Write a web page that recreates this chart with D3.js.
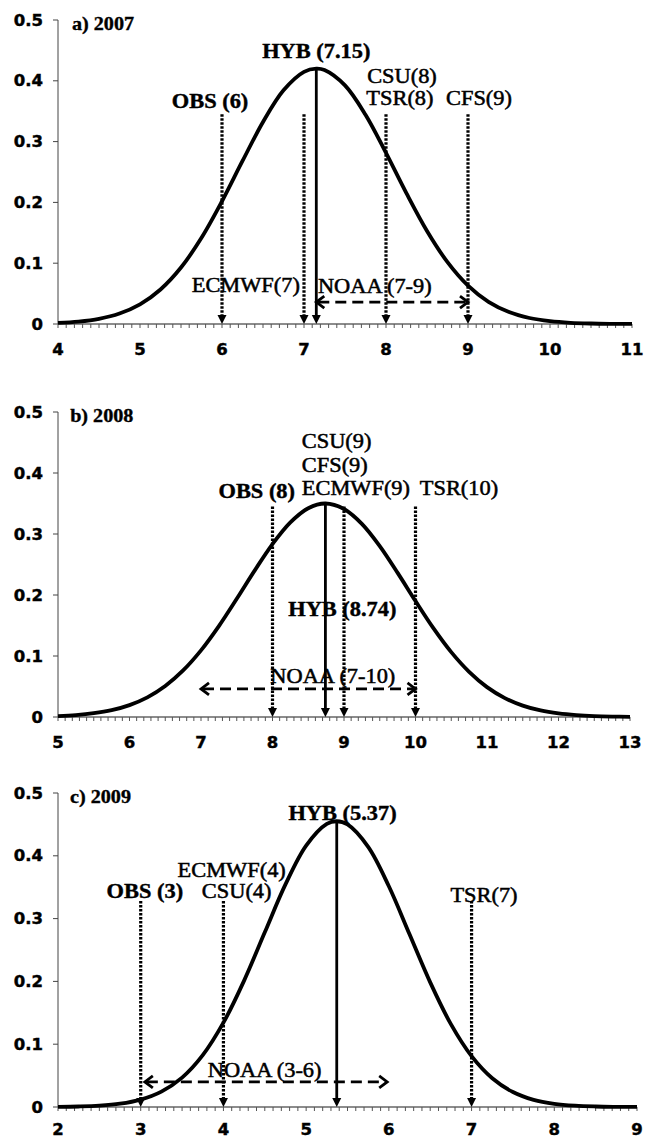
<!DOCTYPE html>
<html><head><meta charset="utf-8">
<script src="https://cdnjs.cloudflare.com/ajax/libs/d3/7.8.5/d3.min.js"></script>
<style>html,body{margin:0;padding:0;background:#fff;}svg{display:block;}</style>
</head><body>
<script>
// ---------- DATA ----------
const panelTitles = ["a) 2007", "b) 2008", "c) 2009"];
const xDomains = [[4, 11], [5, 13], [2, 9]];
const yTicks = [0, 0.1, 0.2, 0.3, 0.4, 0.5];

const curveX2007 = [4,4.25,4.5,4.75,5,5.25,5.5,5.75,6,6.25,6.5,6.75,7,7.15,7.25,7.5,7.75,8,8.25,8.5,8.75,9,9.25,9.5,9.75,10,10.25,10.5,10.75,11];
const curveY2007 = [0.0017,0.004,0.0086,0.0173,0.0324,0.0568,0.0929,0.1418,0.2019,0.2681,0.3323,0.3844,0.4148,0.42,0.4177,0.3924,0.3441,0.2814,0.2148,0.153,0.1017,0.0631,0.0365,0.0197,0.0099,0.0047,0.002,0.0008,0.0003,0.0001];

const curveX2008 = [5,5.25,5.5,5.75,6,6.25,6.5,6.75,7,7.25,7.5,7.75,8,8.25,8.5,8.74,9,9.25,9.5,9.75,10,10.25,10.5,10.75,11,11.25,11.5,11.75,12,12.25,12.5,12.75,13];
const curveY2008 = [0.0016,0.0032,0.0062,0.0112,0.0195,0.0322,0.0508,0.0763,0.1092,0.149,0.1937,0.24,0.2835,0.3191,0.3423,0.35,0.341,0.3167,0.2802,0.2363,0.1901,0.1456,0.1063,0.074,0.049,0.031,0.0187,0.0107,0.0059,0.0031,0.0015,0.0007,0.0003];

const curveX2009 = [2,2.25,2.5,2.75,3,3.25,3.5,3.75,4,4.25,4.5,4.75,5,5.25,5.37,5.5,5.75,6,6.25,6.5,6.75,7,7.25,7.5,7.75,8,8.25,8.5,8.75,9];
const curveY2009 = [0.0003,0.0008,0.0021,0.0052,0.0118,0.0245,0.0468,0.0826,0.1343,0.2013,0.2781,0.3544,0.4162,0.4508,0.455,0.45,0.4142,0.3515,0.275,0.1984,0.1319,0.0809,0.0457,0.0238,0.0114,0.0051,0.0021,0.0008,0.0003,0.0001];

const hybValues = [7.15, 8.74, 5.37];
const hybPeaks = [0.42, 0.35, 0.455];
const forecastValues2007 = [6, 7, 8, 9];
const forecastValues2008 = [8, 9, 10];
const forecastValues2009 = [3, 4, 7];
const noaaArrow2007 = [7.15, 9];
const noaaArrow2008 = [7, 10];
const noaaArrow2009 = [3.05, 5.98];

// labels: [text, bold, x (data), y (data), anchor]
const labels2007 = [
  ["HYB (7.15)", true, 7.15, 0.4375, "middle"],
  ["OBS (6)", true, 5.854, 0.355, "middle"],
  ["ECMWF(7)", false, 6.95, 0.0526, "end"],
  ["CSU(8)", false, 8.195, 0.396, "middle"],
  ["TSR(8)", false, 8.17, 0.36, "middle"],
  ["CFS(9)", false, 9.134, 0.36, "middle"],
  ["NOAA (7-9)", false, 7.17, 0.051, "start"]
];
const labels2008 = [
  ["OBS (8)", true, 7.78, 0.359, "middle"],
  ["CSU(9)", false, 8.41, 0.441, "start"],
  ["CFS(9)", false, 8.41, 0.4016, "start"],
  ["ECMWF(9)", false, 8.41, 0.364, "start"],
  ["TSR(10)", false, 10.06, 0.364, "start"],
  ["HYB (8.74)", true, 8.22, 0.1656, "start"],
  ["NOAA (7-10)", false, 7.97, 0.0557, "start"]
];
const labels2009 = [
  ["HYB (5.37)", true, 5.44, 0.457, "middle"],
  ["ECMWF(4)", false, 4.1, 0.367, "middle"],
  ["CSU(4)", false, 4.16, 0.333, "middle"],
  ["OBS (3)", true, 3.05, 0.333, "middle"],
  ["TSR(7)", false, 7.15, 0.326, "middle"],
  ["NOAA (3-6)", false, 3.81, 0.048, "start"]
];

// ---------- LAYOUT ----------
const W = 649, H = 1140;
const panels = [
  {x0: 58, x1: 632, yTop: 20, yBot: 324, cx: curveX2007, cy: curveY2007, fv: forecastValues2007, dotTop: 0.345, noaa: noaaArrow2007, noaaY: 0.036, labels: labels2007, titlePos: [4.17, 0.4836], xlab: 31},
  {x0: 58, x1: 630, yTop: 412, yBot: 717, cx: curveX2008, cy: curveY2008, fv: forecastValues2008, dotTop: 0.345, noaa: noaaArrow2008, noaaY: 0.046, labels: labels2008, titlePos: [5.17, 0.4836], xlab: 31},
  {x0: 58, x1: 637, yTop: 793, yBot: 1107, cx: curveX2009, cy: curveY2009, fv: forecastValues2009, dotTop: 0.328, noaa: noaaArrow2009, noaaY: 0.04, labels: labels2009, titlePos: [2.145, 0.484], xlab: 28}
];
const SX = 1.12;
const serif = "'Liberation Serif','Times New Roman',serif";
const sans = "'DejaVu Sans',Verdana,sans-serif";

const svg = d3.select("body").append("svg").attr("width", W).attr("height", H);
svg.append("rect").attr("width", W).attr("height", H).attr("fill", "#fff");

function txt(g, x, y, s, o) {
  g.append("text")
    .attr("transform", `translate(${x},${y}) scale(${o.sx || SX},1)`)
    .attr("text-anchor", o.anchor || "start")
    .attr("font-family", o.family)
    .attr("font-size", o.size)
    .attr("font-weight", o.bold ? "bold" : "normal")
    .attr("fill", "#000")
    .attr("stroke", "#000")
    .attr("stroke-width", o.sw || 0.35)
    .text(s);
}

function triDown(g, x, y) {
  g.append("path").attr("d", `M${x - 4.5},${y - 9} L${x + 4.5},${y - 9} L${x},${y} Z`).attr("fill", "#000");
}

panels.forEach((p, i) => {
  const g = svg.append("g");
  const x = d3.scaleLinear().domain(xDomains[i]).range([p.x0, p.x1]);
  const y = d3.scaleLinear().domain([0, 0.5]).range([p.yBot, p.yTop]);

  // y axis
  g.append("line").attr("x1", p.x0).attr("x2", p.x0).attr("y1", y(0)).attr("y2", y(0.5)).attr("stroke", "#444").attr("stroke-width", 1);
  yTicks.forEach(t => {
    g.append("line").attr("x1", p.x0 - 5).attr("x2", p.x0).attr("y1", y(t)).attr("y2", y(t)).attr("stroke", "#444");
    txt(g, 43, y(t) + 5.5, t === 0 ? "0" : t.toFixed(1), {anchor: "end", family: sans, size: 15, bold: true, sx: 1.1, sw: 0.4});
  });
  // x axis
  g.append("line").attr("x1", p.x0).attr("x2", p.x1).attr("y1", y(0)).attr("y2", y(0)).attr("stroke", "#666").attr("stroke-width", 1.3);
  const [d0, d1] = xDomains[i];
  const minor = d3.range(Math.round(d0 * 10), Math.round(d1 * 10) + 1).map(v => v / 10);
  g.selectAll(null).data(minor).enter().append("line")
    .attr("x1", d => x(d)).attr("x2", d => x(d))
    .attr("y1", y(0)).attr("y2", y(0) + 4)
    .attr("stroke", "#555").attr("stroke-width", 1);
  d3.range(d0, d1 + 1).forEach(v => {
    txt(g, x(v), y(0) + p.xlab, String(v), {anchor: "middle", family: sans, size: 15, bold: true, sx: 1.1, sw: 0.4});
  });

  // title
  txt(g, x(p.titlePos[0]), y(p.titlePos[1]), panelTitles[i], {family: serif, size: 18, bold: true});

  // labels
  p.labels.forEach(l => {
    txt(g, x(l[2]), y(l[3]), l[0], {anchor: l[4], family: serif, size: 20, bold: l[1], sw: l[1] ? 0.4 : 0.5});
  });

  // forecast dotted arrows
  p.fv.forEach(v => {
    g.append("line").attr("x1", x(v)).attr("x2", x(v)).attr("y1", y(p.dotTop)).attr("y2", y(0) - 7)
      .attr("stroke", "#000").attr("stroke-width", 3.2).attr("stroke-dasharray", "2.4,1.6");
    triDown(g, x(v), y(0));
  });

  // NOAA dashed double arrow
  const ny = y(p.noaaY), xa = x(p.noaa[0]), xb = x(p.noaa[1]);
  g.append("line").attr("x1", xa + 2).attr("x2", xb - 2).attr("y1", ny).attr("y2", ny)
    .attr("stroke", "#000").attr("stroke-width", 2.8).attr("stroke-dasharray", "11,6");
  g.append("path").attr("d", `M${xa + 8},${ny - 6} L${xa},${ny} L${xa + 8},${ny + 6}`).attr("fill", "none").attr("stroke", "#000").attr("stroke-width", 2.8);
  g.append("path").attr("d", `M${xb - 8},${ny - 6} L${xb},${ny} L${xb - 8},${ny + 6}`).attr("fill", "none").attr("stroke", "#000").attr("stroke-width", 2.8);

  // HYB solid arrow
  g.append("line").attr("x1", x(hybValues[i])).attr("x2", x(hybValues[i])).attr("y1", y(hybPeaks[i])).attr("y2", y(0) - 7)
    .attr("stroke", "#000").attr("stroke-width", 2.8);
  triDown(g, x(hybValues[i]), y(0));

  // curve
  const line = d3.line().x((d, k) => x(p.cx[k])).y(d => y(d)).curve(d3.curveCatmullRom);
  g.append("path").attr("d", line(p.cy)).attr("fill", "none").attr("stroke", "#000").attr("stroke-width", 3.8).attr("stroke-linejoin", "round");
});
</script>
</body></html>
